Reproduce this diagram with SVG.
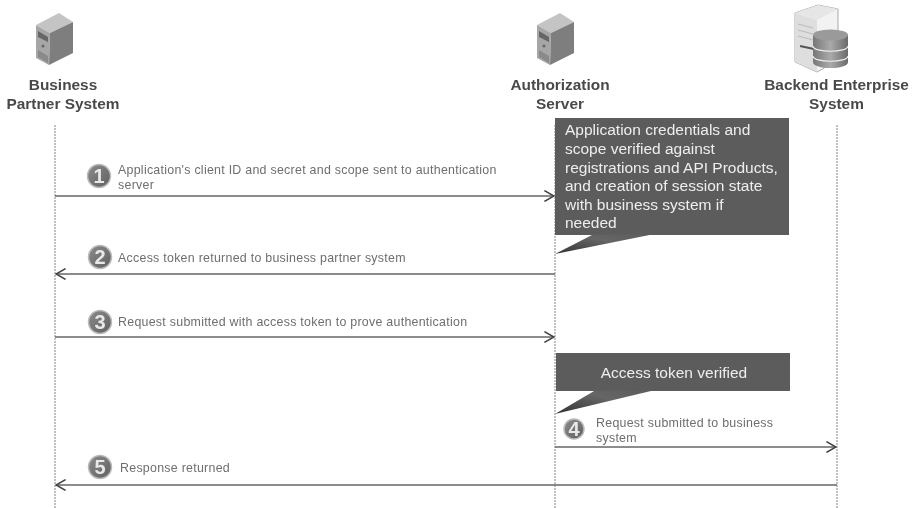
<svg xmlns="http://www.w3.org/2000/svg" width="918" height="508" viewBox="0 0 918 508">
<style>
text{font-family:"Liberation Sans",Arial,sans-serif;filter:url(#ts)}
.h{font-size:15.400px;font-weight:bold;fill:#4a4a4a;text-anchor:middle}
.l{font-size:12.400px;letter-spacing:.27px;fill:#6e6e6e}
.b{font-size:15.500px;fill:#eee}
.n{font-size:20px;font-weight:bold;fill:#e8e8e8;text-anchor:middle}
.life{stroke:#999;stroke-width:1.2;stroke-dasharray:2 1;fill:none}
.msg{stroke:#666;stroke-width:1.4;fill:none}
.call{fill:#5c5c5c}
</style>
<defs>
<filter id="s" x="-5%" y="-5%" width="110%" height="110%"><feGaussianBlur stdDeviation="0.45"/></filter>
<filter id="ts" x="-5%" y="-20%" width="110%" height="140%"><feGaussianBlur stdDeviation="0.35"/></filter>
<linearGradient id="c" x1="0" y1="0" x2="1" y2="1"><stop offset="0" stop-color="#8c8c8c"/><stop offset="1" stop-color="#5f5f5f"/></linearGradient>
<linearGradient id="t" x1="0" y1="1" x2="1" y2="0"><stop offset="0" stop-color="#333"/><stop offset="0.6" stop-color="#666"/><stop offset="1" stop-color="#5c5c5c"/></linearGradient>
<linearGradient id="d" x1="0" y1="0" x2="1" y2="0"><stop offset="0" stop-color="#777"/><stop offset="0.5" stop-color="#aaa"/><stop offset="1" stop-color="#6a6a6a"/></linearGradient>
<marker id="a" markerUnits="userSpaceOnUse" markerWidth="12" markerHeight="12" refX="9" refY="5" orient="auto-start-reverse" viewBox="0 0 10 10"><path d="M1 .5L9 5L1 9.500" fill="none" stroke="#444" stroke-width="1.300"/></marker>
<g id="srv">
<path d="M36 25L59 13L73 22L50 33Z" fill="#c4c4c4"/>
<path d="M36 25L50 33L49 65L36 58Z" fill="#a6a6a6"/>
<path d="M50 33L73 22L73 53L49 65Z" fill="#7e7e7e"/>
<path d="M38 31L48 37V42L38 37Z" fill="#666"/>
<path d="M38 50L48 56V63L38 57Z" fill="#8a8a8a"/>
<circle cx="43" cy="46" r="1.500" fill="#666"/>
</g>
</defs>
<g id="connectors" filter="url(#s)">
<path class="life" d="M55 125V508M555 125V508M837 125V508"/>
<path class="msg" d="M55 196H554" marker-end="url(#a)"/>
<path class="msg" d="M555 274H56" marker-end="url(#a)"/>
<path class="msg" d="M55 337H554" marker-end="url(#a)"/>
<path class="msg" d="M555 447H836" marker-end="url(#a)"/>
<path class="msg" d="M837 485H56" marker-end="url(#a)"/>
</g>
<g id="business-partner">
<use href="#srv" filter="url(#s)"/>
<text class="h" x="63" y="90">Business</text>
<text class="h" x="63" y="109">Partner System</text>
</g>
<g id="authorization-server">
<use href="#srv" x="501" filter="url(#s)"/>
<text class="h" x="560" y="90">Authorization</text>
<text class="h" x="560" y="109">Server</text>
</g>
<g id="backend-enterprise">
<g filter="url(#s)">
<path d="M795 13L818 5L838 9V60L817 72L795 62Z" fill="#f2f2f2" stroke="#aaa" stroke-width="1"/>
<path d="M795 13L817 20V72L795 62Z" fill="#dedede"/>
<path d="M795 13L818 5L838 9L817 20Z" fill="#e6e6e6"/>
<path d="M798 24L813 28M798 30L813 34M798 36L813 40" stroke="#bbb"/>
<path d="M800 46L814 49" stroke="#555" stroke-width="2"/>
<path d="M813 35V62C813 70 848 70 848 62V35Z" fill="url(#d)"/>
<ellipse cx="830.500" cy="35" rx="17.500" ry="5.500" fill="#9a9a9a"/>
<path d="M813 46C813 53 848 53 848 46M813 56C813 63 848 63 848 56" fill="none" stroke="#eee" stroke-width="1.200"/>
</g>
<text class="h" x="836.500" y="90">Backend Enterprise</text>
<text class="h" x="836.500" y="109">System</text>
</g>
<g id="note-credentials">
<g filter="url(#s)">
<rect class="call" x="555" y="118" width="234" height="117"/>
<path d="M593 234.500L652 234.500L555 254Z" fill="url(#t)"/>
</g>
<text class="b" x="565" y="135">Application credentials and</text>
<text class="b" x="565" y="154">scope verified against</text>
<text class="b" x="565" y="173">registrations and API Products,</text>
<text class="b" x="565" y="191">and creation of session state</text>
<text class="b" x="565" y="210">with business system if</text>
<text class="b" x="565" y="228">needed</text>
</g>
<g id="note-token">
<g filter="url(#s)">
<rect class="call" x="556" y="353" width="234" height="38"/>
<path d="M595 390.500L653 390.500L555 414Z" fill="url(#t)"/>
</g>
<text class="b" x="674" y="378" text-anchor="middle">Access token verified</text>
</g>
<g id="step-1">
<circle cx="99" cy="176" r="11.500" fill="url(#c)" stroke="#bbb" stroke-width="1.500" filter="url(#s)"/>
<text class="n" x="99" y="183">1</text>
<text class="l" x="118" y="174">Application's client ID and secret and scope sent to authentication</text>
<text class="l" x="118" y="189">server</text>
</g>
<g id="step-2">
<circle cx="100" cy="257" r="11.500" fill="url(#c)" stroke="#bbb" stroke-width="1.500" filter="url(#s)"/>
<text class="n" x="100" y="264">2</text>
<text class="l" x="118" y="262">Access token returned to business partner system</text>
</g>
<g id="step-3">
<circle cx="100" cy="322" r="11.500" fill="url(#c)" stroke="#bbb" stroke-width="1.500" filter="url(#s)"/>
<text class="n" x="100" y="329">3</text>
<text class="l" x="118" y="326">Request submitted with access token to prove authentication</text>
</g>
<g id="step-4">
<circle cx="574" cy="429" r="10" fill="url(#c)" stroke="#bbb" stroke-width="1.500" filter="url(#s)"/>
<text class="n" x="574" y="436">4</text>
<text class="l" x="596" y="427">Request submitted to business</text>
<text class="l" x="596" y="442">system</text>
</g>
<g id="step-5">
<circle cx="100" cy="467" r="11.500" fill="url(#c)" stroke="#bbb" stroke-width="1.500" filter="url(#s)"/>
<text class="n" x="100" y="474">5</text>
<text class="l" x="120" y="472">Response returned</text>
</g>
</svg>
